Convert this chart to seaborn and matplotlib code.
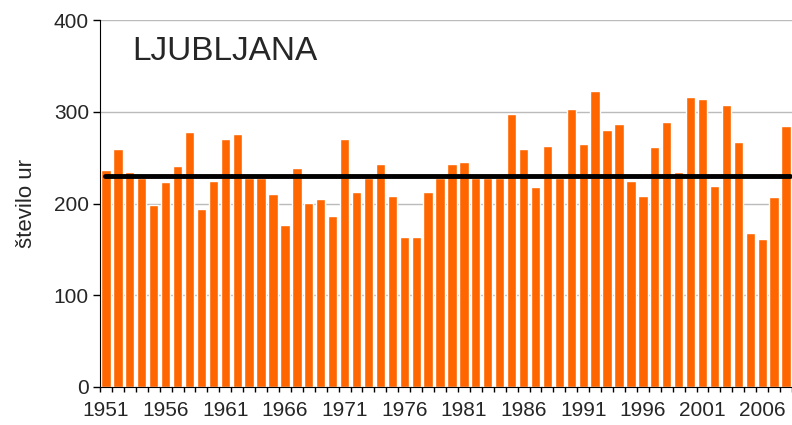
import numpy as np
import pandas as pd
import matplotlib
matplotlib.use("Agg")
import matplotlib.pyplot as plt
import seaborn as sns

# Podatki: število ur (Ljubljana), 1951-2008
leta = list(range(1951, 2009))
ure = [237, 259, 234, 228, 198, 223, 241, 278, 194, 225,
       270, 276, 228, 228, 210, 177, 239, 201, 205, 186,
       270, 212, 228, 243, 208, 163, 163, 212, 228, 243,
       245, 228, 228, 228, 298, 259, 218, 263, 228, 303,
       265, 323, 280, 287, 225, 208, 262, 289, 234, 316,
       314, 219, 307, 267, 168, 161, 207, 285]
povprecje = 230
oznake_let = list(range(1951, 2009, 5))

df = pd.DataFrame({"leto": leta, "ure": ure})

sns.set_style("white")
plt.rcParams["font.family"] = ["Liberation Sans", "DejaVu Sans"]

fig = plt.figure(figsize=(7.92, 4.25), dpi=100)
ax = fig.add_axes([100 / 792, 38 / 425, 692 / 792, 367 / 425])

sns.barplot(data=df, x="leto", y="ure", color="#FF6600", saturation=1,
            width=0.78, ax=ax, zorder=2)

# povprečje
x_pos = np.arange(len(leta))
ax.plot([x_pos[0] - 0.1, x_pos[-1] + 0.3], [povprecje, povprecje],
        color="black", lw=3.5, zorder=3, solid_capstyle="round")

ax.set_xlim(-0.5, len(leta) - 0.5)
ax.set_ylim(0, 400)
ax.set_yticks([0, 100, 200, 300, 400])
ax.yaxis.grid(True, color="#BBBBBB", lw=1, zorder=0)

# letnice pod stolpci
ax.set_xticks([leta.index(l) for l in oznake_let])
ax.set_xticklabels([str(l) for l in oznake_let])
ax.tick_params(axis="x", length=0, labelsize=15, pad=10)
ax.tick_params(axis="y", left=True, direction="out", length=5, width=1,
               color="black", labelsize=15, pad=3)

# kratke oznake med kategorijami
meje = np.arange(len(leta) + 1) - 0.5
ax.vlines(meje, -0.014, 0, transform=ax.get_xaxis_transform(),
          color="black", lw=1, clip_on=False)

for s in ["top", "right"]:
    ax.spines[s].set_visible(False)
ax.spines["left"].set_color("black")
ax.spines["bottom"].set_color("black")

ax.set_xlabel("")
ax.set_ylabel("število ur", fontsize=16, labelpad=12)
ax.text(0.047, 0.915, "LJUBLJANA", transform=ax.transAxes, fontsize=24,
        va="center", ha="left")

fig.savefig("out.png", dpi=100)
